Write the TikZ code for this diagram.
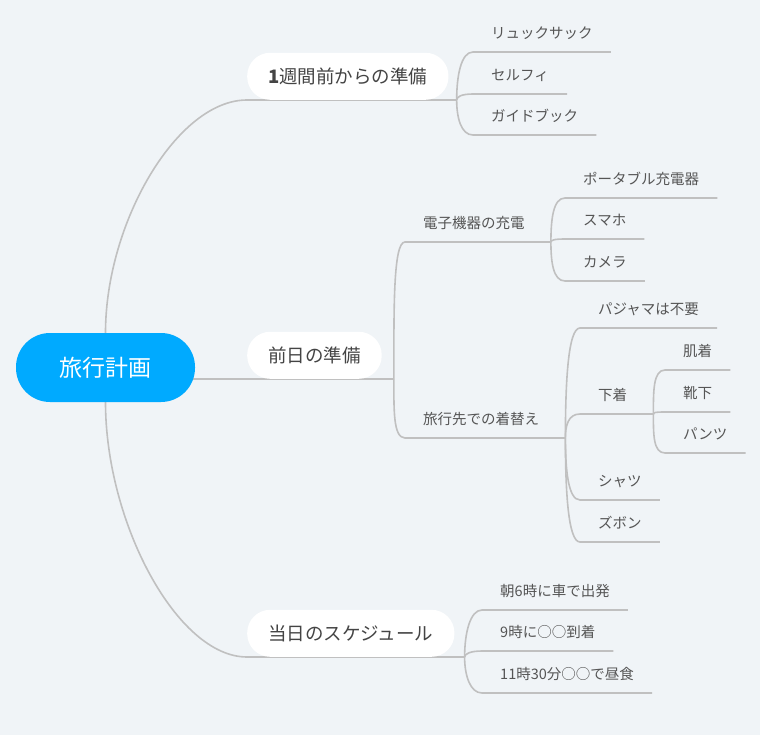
\documentclass[tikz,border=0pt]{standalone}
\usepackage{fontspec}
\setmainfont{Noto Sans CJK JP}
\usetikzlibrary{calc}
\definecolor{bgblue}{HTML}{F0F4F7}
\definecolor{rootblue}{HTML}{00AAFF}
\definecolor{linegray}{HTML}{C0C0C0}
\definecolor{topicgray}{HTML}{444444}
\definecolor{leafgray}{HTML}{555555}
\pgfdeclarelayer{bg}
\pgfsetlayers{bg,main}
\tikzset{
  link/.style={draw=linegray, line width=1.6pt, line join=round},
  branch/.style={to path={.. controls ($(\tikztostart)!0.5!(\tikztostart|-\tikztotarget)$) and ($(\tikztotarget)+(-12pt,0)$) .. (\tikztotarget)}},
  rootnode/.style={fill=rootblue, text=white, rounded corners=34pt, minimum width=179pt, minimum height=69pt, font=\fontsize{23}{27}\selectfont},
  topic/.style={fill=white, text=topicgray, rounded corners=23pt, minimum height=47pt, inner xsep=21pt, anchor=south west, font=\fontsize{18.5}{22}\selectfont},
  leaf/.style={text=leafgray, inner xsep=18pt, inner ysep=0pt, text depth=13pt, anchor=south west, font=\fontsize{14.5}{17}\selectfont},
}
\begin{document}
\begin{tikzpicture}[x=1pt,y=-1pt]
    \useasboundingbox (0,0) rectangle (760,735);
    \begin{pgfonlayer}{bg}
        \fill[bgblue] (0,0) rectangle (760,735);
    \end{pgfonlayer}
    % root and topics
    \node[rootnode] (root) at (105.5,367.5) {旅行計画};
    \node[topic] (t1) at (247,100) {{\bfseries 1}週間前からの準備};
    \node[topic] (t2) at (247,379) {前日の準備};
    \node[topic] (t3) at (247,657) {当日のスケジュール};
    \coordinate (j1) at ($(t1.south east)+(8,0)$);
    \coordinate (j2) at ($(t2.south east)+(12,0)$);
    \coordinate (j3) at ($(t3.south east)+(10,0)$);
    % 1 week before
    \node[leaf] (a1) at (473,52) {リュックサック};
    \node[leaf] (a2) at (473,94) {セルフィ};
    \node[leaf] (a3) at (473,135) {ガイドブック};
    % day before
    \node[leaf] (b1) at (405,242) {電子機器の充電};
    \node[leaf] (b2) at (405,438) {旅行先での着替え};
    \coordinate (jb1) at ($(b1.south east)+(8,0)$);
    \coordinate (jb2) at ($(b2.south east)+(8,0)$);
    \node[leaf] (c1) at (565,198) {ポータブル充電器};
    \node[leaf] (c2) at (565,239) {スマホ};
    \node[leaf] (c3) at (565,281) {カメラ};
    \node[leaf] (d1) at (580,328) {パジャマは不要};
    \node[leaf] (d2) at (580,414) {下着};
    \node[leaf] (d3) at (580,500) {シャツ};
    \node[leaf] (d4) at (580,542) {ズボン};
    \coordinate (jd2) at ($(d2.south east)+(8,0)$);
    \node[leaf] (e1) at (665,370) {肌着};
    \node[leaf] (e2) at (665,412) {靴下};
    \node[leaf] (e3) at (665,453) {パンツ};
    % the day
    \node[leaf] (f1) at (482,610) {朝6時に車で出発};
    \node[leaf] (f2) at (482,651) {9時に○○到着};
    \node[leaf] (f3) at (482,693) {11時30分○○で昼食};
    \begin{pgfonlayer}{bg}
        \draw[link] (root.north) .. controls +(0,-110) and +(-70,0) .. (t1.south west) -- (j1);
        \draw[link] (root.center |- t2.south west) -- (j2);
        \draw[link] (root.south) .. controls +(0,120) and +(-70,0) .. (t3.south west) -- (j3);
        \draw[link] (j1) to[branch] (a1.south west) -- (a1.south east);
        \draw[link] (j1) to[branch] (a2.south west) -- (a2.south east);
        \draw[link] (j1) to[branch] (a3.south west) -- (a3.south east);
        \draw[link] (j2) to[branch] (b1.south west) -- (jb1);
        \draw[link] (j2) to[branch] (b2.south west) -- (jb2);
        \draw[link] (jb1) to[branch] (c1.south west) -- (c1.south east);
        \draw[link] (jb1) to[branch] (c2.south west) -- (c2.south east);
        \draw[link] (jb1) to[branch] (c3.south west) -- (c3.south east);
        \draw[link] (jb2) to[branch] (d1.south west) -- (d1.south east);
        \draw[link] (jb2) to[branch] (d2.south west) -- (jd2);
        \draw[link] (jb2) to[branch] (d3.south west) -- (d3.south east);
        \draw[link] (jb2) to[branch] (d4.south west) -- (d4.south east);
        \draw[link] (jd2) to[branch] (e1.south west) -- (e1.south east);
        \draw[link] (jd2) to[branch] (e2.south west) -- (e2.south east);
        \draw[link] (jd2) to[branch] (e3.south west) -- (e3.south east);
        \draw[link] (j3) to[branch] (f1.south west) -- (f1.south east);
        \draw[link] (j3) to[branch] (f2.south west) -- (f2.south east);
        \draw[link] (j3) to[branch] (f3.south west) -- (f3.south east);
    \end{pgfonlayer}
\end{tikzpicture}
\end{document}
